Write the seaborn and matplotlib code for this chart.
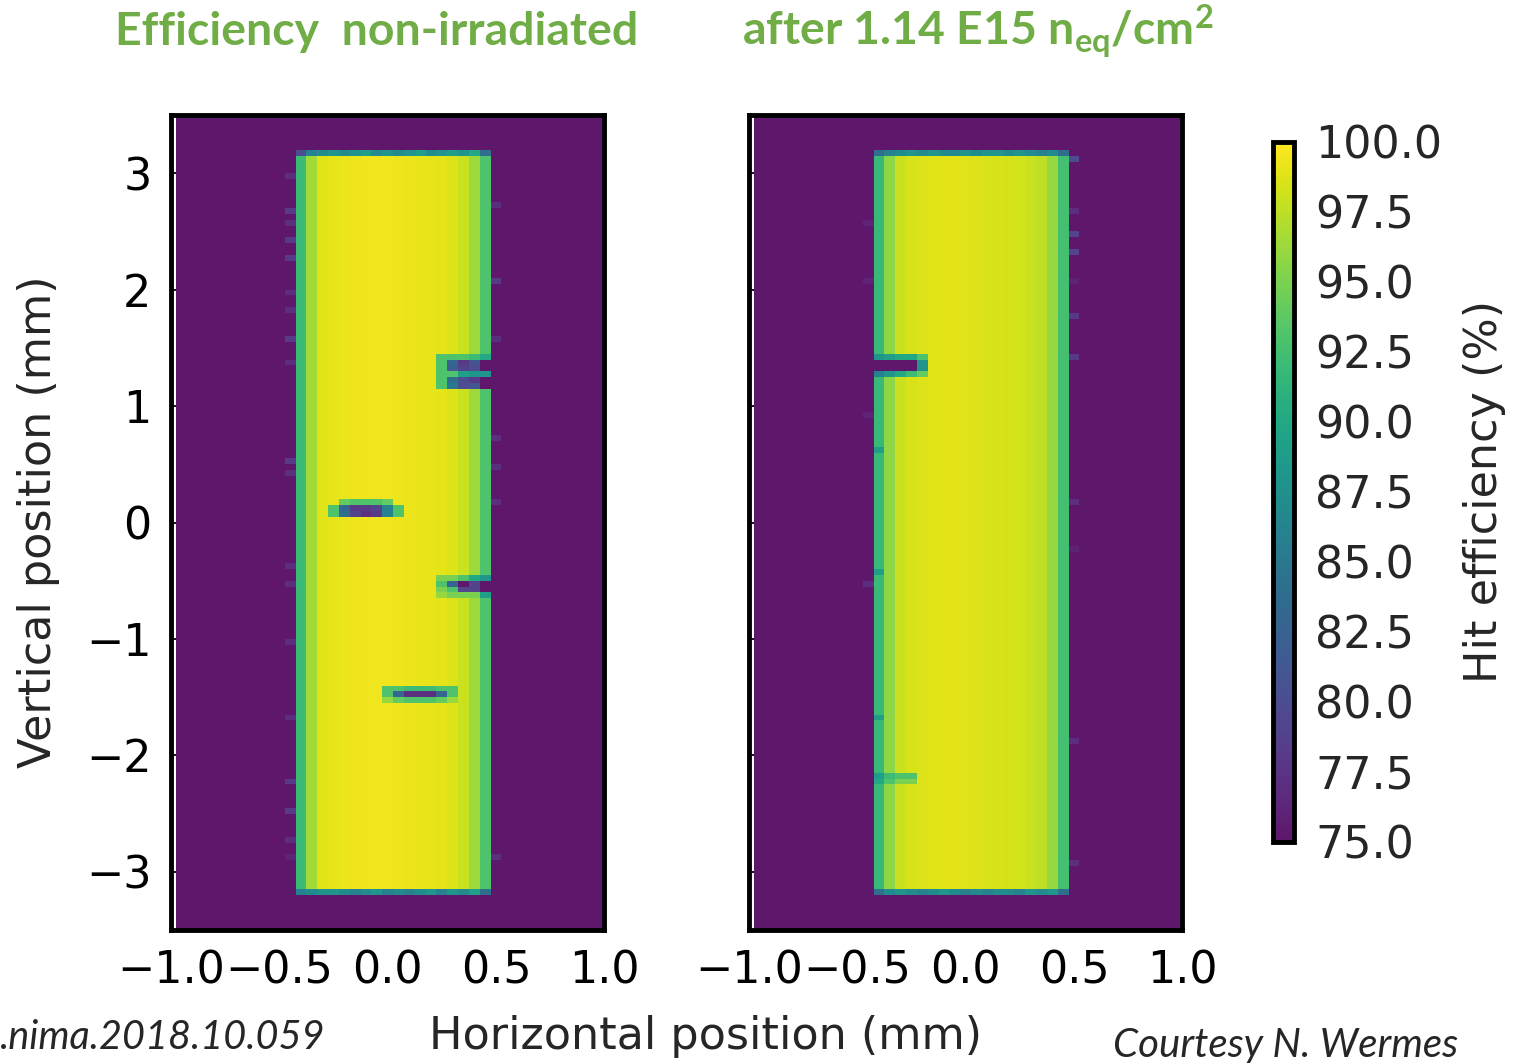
import numpy as np
import matplotlib as mpl
import matplotlib.pyplot as plt
import seaborn as sns

# ---- binning of the efficiency maps (mm) ----
bin_mm = 0.05
x_first_edge = -0.975
n_cols = 40
y_first_edge = -3.5
n_rows = 140

sensor_x0 = -0.425
sensor_y = (-3.2, 3.2)
outside_eff = 60.0  # below colour range -> background

# column-averaged efficiency (%) of the 18 sensor columns, left to right
cols_nonirr = [92.0, 96.5, 98.8, 99.1, 99.3, 99.4, 99.5, 99.5, 99.5,
               99.4, 99.3, 99.2, 99.1, 99.0, 98.7, 98.0, 96.3, 93.0]
cols_irr = [91.8, 95.8, 98.0, 98.5, 98.7, 98.8, 98.9, 98.9, 98.8,
            98.7, 98.6, 98.5, 98.4, 98.3, 98.0, 97.5, 96.0, 92.5]

# first and last sensor row (edge rows)
top_nonirr = [80, 86, 87, 88, 87, 88, 89, 87, 88, 87, 88, 89, 87, 88, 89, 88, 90, 84]
bottom_nonirr = [86, 87, 88, 88, 87, 86, 87, 88, 86, 87, 86, 87, 88, 86, 88, 87, 89, 84]
top_irr = [84, 86, 87, 88, 87, 88, 87, 87, 88, 87, 88, 88, 87, 88, 87, 86, 87, 84]
bottom_irr = [84, 87, 88, 87, 86, 87, 88, 87, 86, 87, 86, 87, 87, 86, 88, 87, 88, 84]

# local defects: (row lower edge y, first column x, efficiencies along x)
defects_nonirr = [
    (1.40, 0.225, [93, 93, 93, 92, 90]),
    (1.35, 0.225, [93, 83, 78, 81, 70]),
    (1.30, 0.225, [93, 82, 79, 80, 72]),
    (1.25, 0.225, [93, 93, 89, 88, 88]),
    (1.20, 0.225, [93, 84, 80, 78, 70]),
    (1.15, 0.225, [93, 85, 80, 81, 72]),
    (0.15, -0.225, [94, 93, 93, 93, 94]),
    (0.10, -0.275, [93, 83, 78, 78, 79, 86, 93]),
    (0.05, -0.275, [93, 84, 79, 77, 78, 86, 93]),
    (-0.50, 0.225, [95, 95, 93, 90, 88]),
    (-0.55, 0.225, [93, 83, 72, 79, 70]),
    (-0.60, 0.225, [95, 93, 79, 79, 70]),
    (-0.65, 0.225, [96, 95, 95, 95, 89]),
    (-1.45, -0.025, [93, 93, 92, 92, 92, 93, 93]),
    (-1.50, -0.025, [93, 83, 77, 77, 77, 83, 93]),
    (-1.55, -0.025, [96, 94, 93, 93, 93, 94, 96]),
]
defects_irr = [
    (1.40, -0.425, [88, 89, 90, 90, 93]),
    (1.35, -0.425, [70, 70, 70, 70, 88]),
    (1.30, -0.425, [70, 70, 70, 70, 88]),
    (1.25, -0.425, [86, 88, 90, 92, 94]),
    (-2.20, -0.425, [89, 92, 93, 93]),
    (-2.25, -0.425, [90, 93, 95, 95]),
    (0.60, -0.425, [89]),
    (-0.45, -0.425, [89]),
    (-1.70, -0.425, [89]),
]

# isolated hits just outside the sensor: (x, y, efficiency)
strays_nonirr = [
    (-0.45, 2.98, 77), (-0.45, 2.68, 78), (-0.45, 2.59, 77), (-0.45, 2.43, 78),
    (-0.45, 2.28, 78), (-0.45, 1.97, 77), (-0.45, 1.82, 77), (-0.45, 1.57, 78),
    (-0.45, 1.39, 77), (-0.45, 0.52, 78), (-0.45, 0.43, 77), (-0.45, -0.36, 77),
    (-0.45, -0.52, 77), (-0.45, -1.02, 77), (-0.45, -1.67, 77), (-0.45, -2.22, 78),
    (-0.45, -2.50, 78), (-0.45, -2.73, 77), (-0.45, -2.88, 76),
    (0.50, 2.73, 77), (0.50, 2.08, 78), (0.50, 1.59, 77), (0.50, 0.73, 77),
    (0.50, 0.47, 77), (0.50, 0.17, 77), (0.50, -2.88, 77),
]
strays_irr = [
    (0.50, 3.11, 80), (0.50, 2.68, 77), (0.50, 2.45, 79), (0.50, 2.33, 79),
    (0.50, 2.08, 76), (0.50, 1.78, 78), (0.50, 1.44, 78), (0.50, 0.16, 77),
    (0.50, -0.22, 76), (0.50, -1.87, 77), (0.50, -2.94, 77),
    (-0.45, 2.59, 76), (-0.45, 2.08, 76), (-0.45, 0.93, 76), (-0.45, -0.52, 77),
]

cbar_ticks = [75.0, 77.5, 80.0, 82.5, 85.0, 87.5, 90.0, 92.5, 95.0, 97.5, 100.0]
x_ticks = [-1.0, -0.5, 0.0, 0.5, 1.0]
y_ticks = [-3, -2, -1, 0, 1, 2, 3]


def col_of(x):
    return int(np.floor((x - x_first_edge) / bin_mm + 1e-6))


def row_of(y):
    return int(np.floor((y - y_first_edge) / bin_mm + 1e-6))


def build_map(cols, top, bottom, defects, strays):
    grid = np.full((n_rows, n_cols), outside_eff)
    c0 = col_of(sensor_x0)
    r0, r1 = row_of(sensor_y[0]), row_of(sensor_y[1])
    grid[r0:r1, c0:c0 + len(cols)] = cols
    grid[r1 - 1, c0:c0 + len(top)] = top
    grid[r0, c0:c0 + len(bottom)] = bottom
    for y, x, vals in defects:
        c = col_of(x)
        grid[row_of(y), c:c + len(vals)] = vals
    for x, y, v in strays:
        grid[row_of(y), col_of(x)] = v
    return np.flipud(grid)  # heatmap row 0 at top


map_nonirr = build_map(cols_nonirr, top_nonirr, bottom_nonirr, defects_nonirr, strays_nonirr)
map_irr = build_map(cols_irr, top_irr, bottom_irr, defects_irr, strays_irr)

# viridis with the slightly lighter purple of the original rendering at the low end
base = mpl.colormaps['viridis'](np.linspace(0, 1, 256))
t = np.linspace(0, 1, 256)[:, None]
shift = np.array([0.10, 0.085, 0.085, 0.0])
base = np.clip(base + shift * np.clip(1 - t / 0.35, 0, 1), 0, 1)
cmap = mpl.colors.ListedColormap(base)
cmap.set_under(base[0])

sns.set_style('ticks')
plt.rcParams['font.family'] = 'DejaVu Sans'
plt.rcParams['mathtext.fontset'] = 'custom'
plt.rcParams['mathtext.rm'] = 'Lato:bold'
plt.rcParams['mathtext.it'] = 'Lato:bold'
plt.rcParams['mathtext.bf'] = 'Lato:bold'

fig = plt.figure(figsize=(15.21, 10.63), dpi=100)
ax1 = fig.add_axes([0.1124, 0.1251, 0.2850, 0.7667])
ax2 = fig.add_axes([0.4924, 0.1251, 0.2850, 0.7667])
cax = fig.add_axes([0.8370, 0.2080, 0.0138, 0.6585])

sns.heatmap(map_nonirr, ax=ax1, cmap=cmap, vmin=75, vmax=100, cbar=False,
            xticklabels=False, yticklabels=False)
sns.heatmap(map_irr, ax=ax2, cmap=cmap, vmin=75, vmax=100, cbar=True, cbar_ax=cax,
            cbar_kws={'ticks': cbar_ticks, 'format': '%.1f'},
            xticklabels=False, yticklabels=False)

y_top = y_first_edge + n_rows * bin_mm
for ax in (ax1, ax2):
    ax.set_xlim((x_ticks[0] - x_first_edge) / bin_mm, (x_ticks[-1] - x_first_edge) / bin_mm)
    ax.set_ylim((y_top - (-3.5)) / bin_mm, 0)
    for s in ax.spines.values():
        s.set_visible(True)
        s.set_linewidth(3.5)
        s.set_color('black')
    ax.set_xticks([(v - x_first_edge) / bin_mm for v in x_ticks])
    ax.set_xticklabels([f'{v:.1f}'.replace('-', '\u2212') for v in x_ticks])
    ax.set_yticks([(y_top - v) / bin_mm for v in y_ticks])
    ax.tick_params(direction='in', length=11, width=1.3, top=True, right=True,
                   labelsize=32, pad=14, colors='black')
    ax.set_xlabel('')
    ax.set_ylabel('')

ax1.set_yticklabels([str(v).replace('-', '\u2212') for v in y_ticks])
ax2.set_yticklabels([])

cbar = ax2.collections[0].colorbar
cbar.outline.set_visible(True)
cbar.outline.set_linewidth(3.5)
cbar.outline.set_edgecolor('black')
cax.tick_params(direction='in', length=11, width=1.3, labelsize=32, pad=15)
cbar.set_label('Hit efficiency (%)', fontsize=32, labelpad=15)

fig.text(0.025, 0.509, 'Vertical position (mm)', rotation=90, fontsize=32,
         ha='center', va='center')
fig.text(0.464, 0.0245, 'Horizontal position (mm)', fontsize=32,
         ha='center', va='center')

green = '#70ad47'
fig.text(0.0756, 0.9577, 'Efficiency  non-irradiated', fontsize=33.4, color=green,
         family='Lato', weight='bold', ha='left', va='baseline')
fig.text(0.4878, 0.9577, r'after 1.14 E15 n$_{\mathrm{eq}}$/cm$^{\mathrm{2}}$',
         fontsize=33.4, color=green, family='Lato', weight='bold', ha='left', va='baseline')
fig.text(0.0, 0.013, '.nima.2018.10.059', fontsize=28.5, style='italic',
         family='Lato', ha='left', va='baseline')
fig.text(0.7318, 0.006, 'Courtesy N. Wermes', fontsize=29, style='italic',
         family='Lato', ha='left', va='baseline')

fig.savefig('out.png', dpi=100)
